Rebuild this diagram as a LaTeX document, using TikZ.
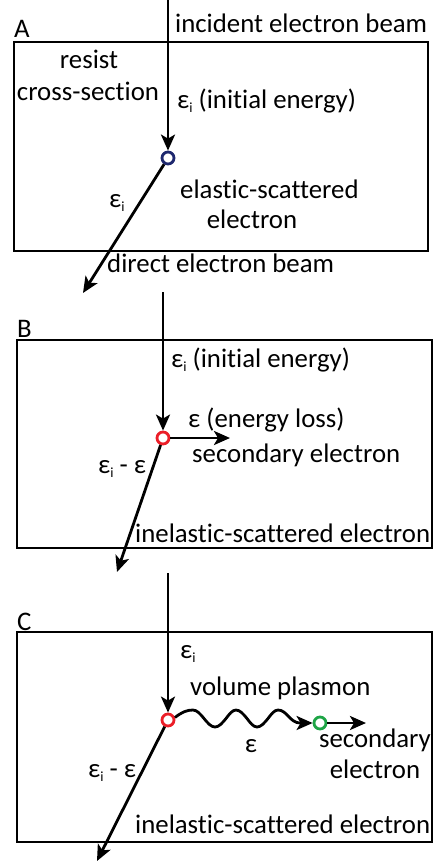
\documentclass[tikz,border=0pt]{standalone}
\usepackage{fontspec}
\setmainfont[Ligatures=NoCommon]{Carlito}
\usetikzlibrary{arrows.meta}
\newcommand{\epsi}{ε\raisebox{-0.35ex}{\fontsize{14}{14}\selectfont i}}
\definecolor{navy}{RGB}{30,40,110}
\definecolor{hitred}{RGB}{235,30,40}
\definecolor{hitgreen}{RGB}{30,165,70}
\tikzset{
  txt/.style={inner sep=0pt, font=\fontsize{26.8}{30}\selectfont},
  lw/.style={txt, anchor=base west},
  ctr/.style={txt, anchor=base},
  panel/.style={draw, line width=2.2pt},
  beam/.style={line width=2.8pt, -{Stealth[length=16pt,width=14pt,inset=4pt]}},
  hit/.style={circle, draw, line width=2.8pt, minimum size=12pt, inner sep=0pt},
}
\begin{document}
\begin{tikzpicture}[x=1pt,y=-1pt]
\useasboundingbox (0,0) rectangle (435,863);
% ---------- Panel A ----------
\draw[panel] (14,42) rectangle (428,251);
\node[lw] (lA) at (14,37) {A};
\node[lw] (incA) at (175,32) {incident electron beam};
\node[ctr] (res1) at (89,68) {resist};
\node[ctr] (res2) at (88,100) {cross-section};
\node[lw] (eiA) at (177,108) {\epsi{} (initial energy)};
\node[lw] (eiA2) at (109,207) {\epsi};
\node[lw] (elA1) at (180,198) {elastic-scattered};
\node[ctr] (elA2) at (252,228) {electron};
\node[lw] (dirA) at (107,272) {direct electron beam};
\coordinate (topA) at (168,0);
\node[hit, draw=navy] (cA) at (168,158) {};
\coordinate (endA) at (83,293);
\draw[beam] (topA) -- (cA);
\draw[beam] (cA) -- (endA);
% ---------- Panel B ----------
\draw[panel] (17,340) rectangle (432,548);
\node[lw] (lB) at (17,337) {B};
\node[lw] (eiB) at (171,367) {\epsi{} (initial energy)};
\node[lw] (elB) at (188,427) {ε (energy loss)};
\node[lw] (secB) at (192,462) {secondary electron};
\node[lw] (diffB) at (98,473) {\epsi{} - ε};
\node[lw] (inB) at (135,542) {inelastic-scattered electron};
\coordinate (topB) at (163,292);
\node[hit, draw=hitred] (cB) at (163,438) {};
\coordinate (secEndB) at (230,438);
\coordinate (endB) at (117,572);
\draw[beam] (topB) -- (cB);
\draw[beam] (cB) -- (secEndB);
\draw[beam] (cB) -- (endB);
% ---------- Panel C ----------
\draw[panel] (17,632) rectangle (432,842);
\node[lw] (lC) at (17,630) {C};
\node[lw] (eiC) at (180,658) {\epsi};
\node[lw] (vpC) at (190,695) {volume plasmon};
\node[ctr] (eC) at (251,752) {ε};
\node[ctr] (secC1) at (375,747) {secondary};
\node[ctr] (secC2) at (375,778) {electron};
\node[lw] (diffC) at (88,777) {\epsi{} - ε};
\node[lw] (inC) at (135,833) {inelastic-scattered electron};
\coordinate (topC) at (168,573);
\node[hit, draw=hitred] (cC) at (168,720) {};
\node[hit, draw=hitgreen] (gC) at (320,723) {};
\coordinate (secEndC) at (366,723);
\coordinate (endC) at (97,861);
\draw[beam] (topC) -- (cC);
\draw[beam] (cC) -- (endC);
\draw[beam] (cC.20) .. controls (182,712) and (187,710) .. (193,710)
   cos (204,718.5) sin (215,727) cos (226,718.5)
   sin (236,710) cos (247,718.5) sin (257,727) cos (268,718.5) sin (278,710)
   .. controls (287,710) and (290,723) .. (300,723) -- (gC.west);
\draw[beam] (gC) -- (secEndC);
\end{tikzpicture}
\end{document}
